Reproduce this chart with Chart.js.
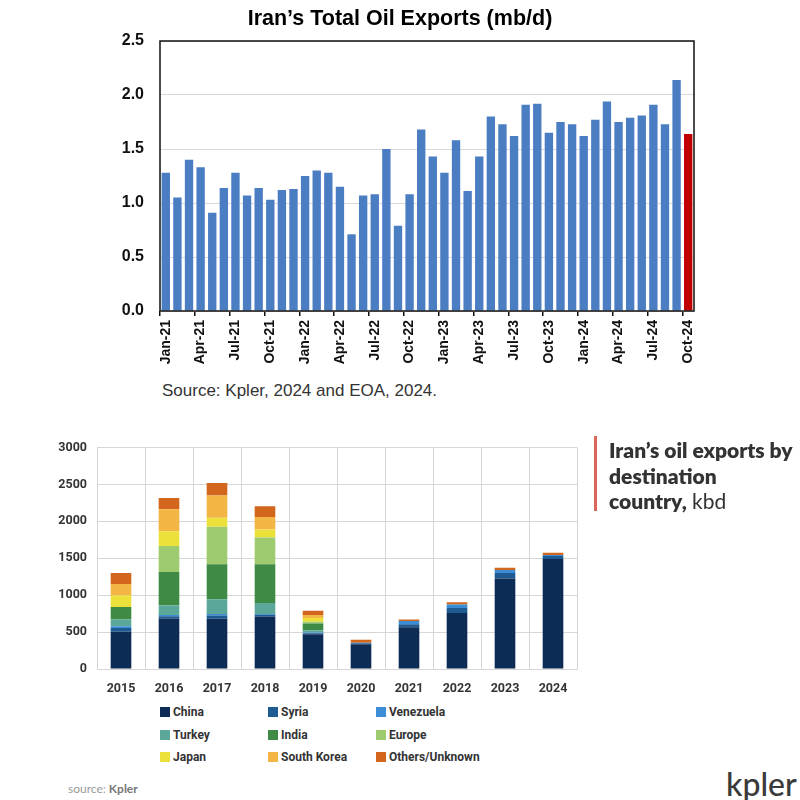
<!DOCTYPE html>
<html><head><meta charset="utf-8">
<script src="https://cdn.jsdelivr.net/npm/chart.js@4.4.0/dist/chart.umd.min.js"></script>
<style>
body{margin:0;background:#fff;width:800px;height:800px;position:relative;overflow:hidden;}
canvas{position:absolute;left:0;}
#title1{position:absolute;left:0;top:6px;width:800px;text-align:center;font:bold 21.5px "Liberation Sans",sans-serif;color:#000;}
#src1{position:absolute;left:162px;top:381px;font:17px "Liberation Sans",sans-serif;color:#333;white-space:nowrap;}
#redbar{position:absolute;left:594px;top:436px;width:3px;height:75px;background:#d9685a;}
#title2{position:absolute;left:609px;top:437px;font:21px/25.5px Lato,sans-serif;color:#333;white-space:nowrap;}
#title2 b{font-weight:800;}
#legend{position:absolute;left:160px;top:705px;width:330px;}
.li{position:absolute;font:bold 12px Roboto,sans-serif;color:#333;white-space:nowrap;line-height:14px;}
.li span{display:inline-block;width:10px;height:10px;margin-right:3px;vertical-align:-1px;}
#src2{position:absolute;left:68px;top:781px;font:12px Lato,sans-serif;color:#9a9a9a;}
#src2 b{color:#777;font-weight:700;}
#logo{position:absolute;left:726px;top:764px;font:500 32px Lato,sans-serif;color:#3a3a3a;}
</style></head><body>
<canvas id="c1" width="800" height="380" style="top:0"></canvas>
<div id="title1">Iran’s Total Oil Exports (mb/d)</div>
<div id="src1">Source: Kpler, 2024 and EOA, 2024.</div>
<canvas id="c2" width="600" height="275" style="top:430px"></canvas>
<div id="redbar"></div>
<div id="title2"><b>Iran’s oil exports by<br>destination<br>country,</b> kbd</div>
<div id="legend"></div>
<div id="src2">source: <b>Kpler</b></div>
<div id="logo">kpler</div>
<script>
// ---- Top chart data ----
const months = ["Jan-21","Feb-21","Mar-21","Apr-21","May-21","Jun-21","Jul-21","Aug-21","Sep-21","Oct-21","Nov-21","Dec-21",
"Jan-22","Feb-22","Mar-22","Apr-22","May-22","Jun-22","Jul-22","Aug-22","Sep-22","Oct-22","Nov-22","Dec-22",
"Jan-23","Feb-23","Mar-23","Apr-23","May-23","Jun-23","Jul-23","Aug-23","Sep-23","Oct-23","Nov-23","Dec-23",
"Jan-24","Feb-24","Mar-24","Apr-24","May-24","Jun-24","Jul-24","Aug-24","Sep-24","Oct-24"];
const exportsMbd = [1.28,1.05,1.40,1.33,0.91,1.14,1.28,1.07,1.14,1.03,1.12,1.13,
1.25,1.30,1.28,1.15,0.71,1.07,1.08,1.50,0.79,1.08,1.68,1.43,
1.28,1.58,1.11,1.43,1.80,1.73,1.62,1.91,1.92,1.65,1.75,1.73,
1.62,1.77,1.94,1.75,1.79,1.81,1.91,1.73,2.14,1.64];
const topYTicks = [0,0.5,1.0,1.5,2.0,2.5];

// ---- Bottom chart data ----
const years = ["2015","2016","2017","2018","2019","2020","2021","2022","2023","2024"];
const china      = [505,685,680,710,470,335,565,760,1225,1490];
const syria      = [50,30,45,25,15,15,40,65,75,40];
const venezuela  = [25,15,20,10,10,5,45,50,40,15];
const turkey     = [90,135,200,150,30,0,0,0,0,0];
const india      = [170,450,475,525,90,0,0,0,0,0];
const europe     = [0,350,505,360,25,0,0,0,0,0];
const japan      = [155,200,125,110,50,0,0,0,0,0];
const southKorea = [155,300,300,170,40,0,0,0,0,0];
const others     = [150,150,170,145,60,40,20,30,30,30];
const seriesNames = ["China","Syria","Venezuela","Turkey","India","Europe","Japan","South Korea","Others/Unknown"];
const seriesData = [china,syria,venezuela,turkey,india,europe,japan,southKorea,others];
const seriesColors = ["#0c2b55","#1f5b93","#3b8ed6","#5ba89b","#3f8a45","#9ecb6f","#ece03a","#f3b543","#d2661c"];

const frame = {id:'frame', afterDraw(chart){
  const {ctx, chartArea:a} = chart;
  ctx.save(); ctx.strokeStyle='#111'; ctx.lineWidth=1.5;
  ctx.strokeRect(a.left, a.top, a.right-a.left, a.bottom-a.top); ctx.restore();
}};

new Chart(document.getElementById('c1'), {
  type:'bar',
  data:{labels:months, datasets:[{data:exportsMbd,
    backgroundColor:(c)=> c.dataIndex===exportsMbd.length-1 ? '#c00000' : '#4a7dc2',
    borderWidth:0, barPercentage:0.72, categoryPercentage:1}]},
  options:{
    responsive:false, animation:false,
    layout:{padding:{left:0,right:106,top:41,bottom:0}},
    plugins:{legend:{display:false}, tooltip:{enabled:false}, title:{display:false}},
    scales:{
      x:{
        afterFit:(s)=>{s.height=69;},
        grid:{offset:true, drawOnChartArea:false, tickLength:5, lineWidth:1.5,
          color:(c)=> (c.index%3===0) ? '#111' : 'rgba(0,0,0,0)'},
        border:{display:false},
        ticks:{autoSkip:false, minRotation:90, maxRotation:90, padding:4, color:'#111',
          font:{family:'Liberation Sans', size:14, weight:'bold'},
          callback:(v,i)=> i%3===0 ? months[i] : ''}
      },
      y:{
        min:0, max:2.5,
        afterFit:(s)=>{s.width=160;},
        afterBuildTicks:(s)=>{s.ticks = topYTicks.map(v=>({value:v}));},
        grid:{color:'#d9d9d9', drawTicks:false},
        border:{display:false},
        ticks:{padding:16, color:'#111', font:{family:'Liberation Sans', size:16, weight:'bold'},
          callback:(v)=>Number(v).toFixed(1)}
      }
    }
  },
  plugins:[frame]
});

new Chart(document.getElementById('c2'), {
  type:'bar',
  data:{labels:years, datasets: seriesNames.map((n,i)=>({label:n, data:seriesData[i],
    backgroundColor:seriesColors[i], borderWidth:0, barPercentage:0.43, categoryPercentage:1}))},
  options:{
    responsive:false, animation:false,
    layout:{padding:{left:0,right:23,top:17,bottom:0}},
    plugins:{legend:{display:false}, tooltip:{enabled:false}},
    scales:{
      x:{stacked:true,
        afterFit:(s)=>{s.height=36;},
        grid:{offset:true, color:'#d6d6d6', drawTicks:false},
        border:{display:true, color:'#d6d6d6'},
        ticks:{padding:12, color:'#333', font:{family:'Roboto', size:12.5, weight:'bold'}}
      },
      y:{stacked:true, min:0, max:3000,
        afterFit:(s)=>{s.width=97;},
        grid:{color:'#d6d6d6', drawTicks:false},
        border:{display:true, color:'#d6d6d6'},
        ticks:{stepSize:500, padding:10, color:'#333', font:{family:'Roboto', size:12.5, weight:'bold'},
          callback:(v)=>String(v)}
      }
    }
  }
});

// HTML legend in a 3x3 grid
const leg = document.getElementById('legend');
seriesNames.forEach((n,i)=>{
  const d = document.createElement('div');
  d.className='li';
  d.style.left = (i%3)*108 + 'px';
  d.style.top = Math.floor(i/3)*22.5 + 'px';
  d.innerHTML = '<span style="background:'+seriesColors[i]+'"></span>'+n;
  leg.appendChild(d);
});
</script>
</body></html>
